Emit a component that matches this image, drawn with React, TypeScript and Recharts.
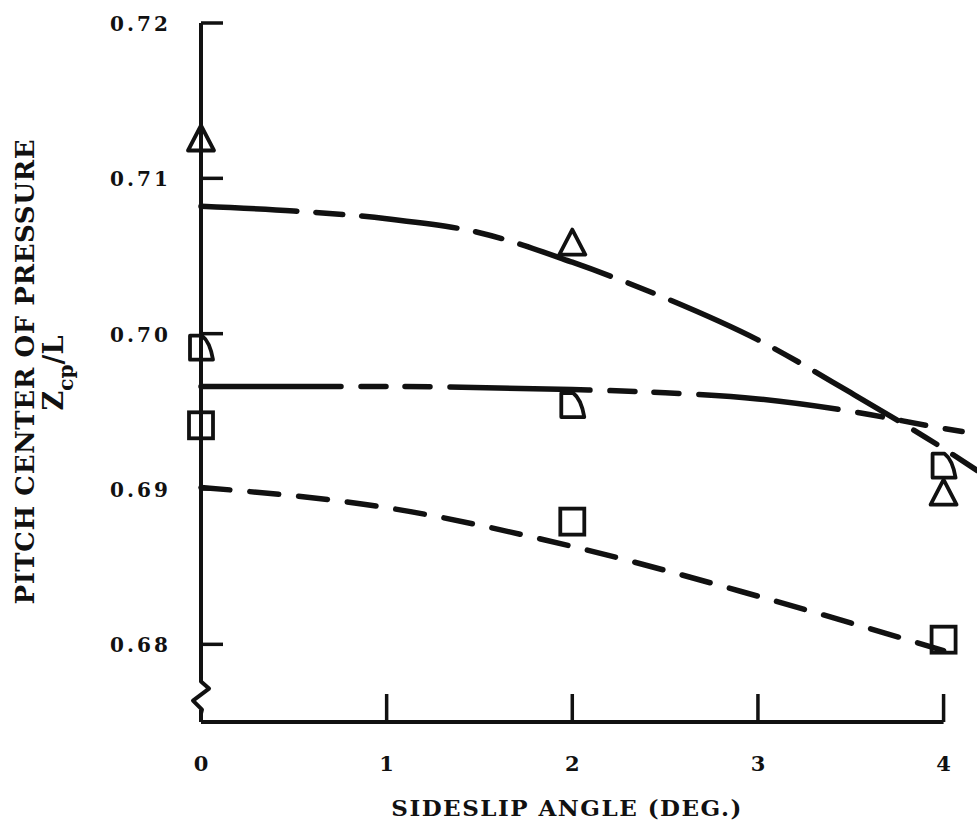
import React from 'react';
import {
  ComposedChart,
  Line,
  Scatter,
  XAxis,
  YAxis,
  ReferenceLine,
  ReferenceDot,
} from 'recharts';

// ---------- data ----------
const xTicks = [0, 1, 2, 3, 4];
const xTickLabels = ['0', '1', '2', '3', '4'];
const yTicks = [0.68, 0.69, 0.7, 0.71, 0.72];
const yTickLabels = ['0.68', '0.69', '0.70', '0.71', '0.72'];

const markerX = [0, 2, 4];
const triangleY = [0.7125, 0.7058, 0.6897];
const flagY = [0.6991, 0.6954, 0.6915];
const squareY = [0.6941, 0.6879, 0.6803];

const upperCurveX = [0, 0.5, 1, 1.5, 2, 2.5, 3, 3.5, 4, 4.18];
const upperCurveY = [0.7082, 0.7079, 0.7074, 0.7065, 0.7046, 0.7023, 0.6996, 0.6962, 0.6926, 0.6912];

const middleCurveX = [0, 1, 2, 2.5, 3, 3.5, 4, 4.1];
const middleCurveY = [0.6966, 0.6966, 0.6964, 0.6962, 0.6958, 0.695, 0.6939, 0.6937];

const lowerCurveX = [0, 1, 2, 3, 4];
const lowerCurveY = [0.6901, 0.6888, 0.6863, 0.6831, 0.6796];

const X_DOMAIN: [number, number] = [0, 4.18];
const Y_DOMAIN: [number, number] = [0.675, 0.72];
const AXIS_BREAK_Y = 0.6767;

const X_TITLE = 'SIDESLIP ANGLE (DEG.)';
const Y_TITLE = 'PITCH CENTER OF PRESSURE';

// ---------- helpers ----------
const FONT = '"DejaVu Serif", "Liberation Serif", serif';
const INK = '#111';

const toPoints = (xs: number[], ys: number[]) => xs.map((x, i) => ({ x, y: ys[i] }));

const upperData = toPoints(upperCurveX, upperCurveY);
const middleData = toPoints(middleCurveX, middleCurveY);
const lowerData = toPoints(lowerCurveX, lowerCurveY);
const triangleData = toPoints(markerX, triangleY);
const flagData = toPoints(markerX, flagY);
const squareData = toPoints(markerX, squareY);

const TriangleShape = (p: any) => {
  const { cx, cy } = p;
  return (
    <path
      d={`M${cx},${cy - 14} L${cx + 13},${cy + 11} L${cx - 13},${cy + 11} Z`}
      fill="none"
      stroke={INK}
      strokeWidth={3.8}
      strokeLinejoin="round"
    />
  );
};

const FlagShape = (p: any) => {
  const { cx, cy } = p;
  return (
    <path
      d={`M${cx - 11},${cy - 12} L${cx + 1},${cy - 12} Q${cx + 9},${cy - 6} ${cx + 12},${cy + 12} L${cx - 11},${cy + 12} Z`}
      fill="none"
      stroke={INK}
      strokeWidth={3.8}
      strokeLinejoin="round"
    />
  );
};

const SquareShape = (p: any) => {
  const { cx, cy } = p;
  return (
    <rect x={cx - 12} y={cy - 13} width={24} height={26} fill="none" stroke={INK} strokeWidth={3.8} />
  );
};

const BreakShape = (p: any) => {
  const { cx, cy } = p;
  return (
    <g>
      <line x1={cx} x2={cx} y1={cy - 14} y2={cy + 14} stroke="#fff" strokeWidth={7} />
      <path
        d={`M${cx},${cy - 18} L${cx},${cy - 14} L${cx + 8},${cy - 7} L${cx - 8},${cy + 5} L${cx + 1},${cy + 14} L${cx},${cy + 18}`}
        fill="none"
        stroke={INK}
        strokeWidth={4}
        strokeLinejoin="round"
      />
    </g>
  );
};

const YTick = (p: any) => {
  const { x, y, payload } = p;
  const idx = yTicks.findIndex((t) => Math.abs(t - payload.value) < 1e-9);
  return (
    <g>
      <line x1={x} x2={x + 22} y1={y} y2={y} stroke={INK} strokeWidth={3.5} />
      <text
        x={x - 33}
        y={y + 1}
        textAnchor="end"
        dominantBaseline="central"
        fontFamily={FONT}
        fontWeight="bold"
        fontSize={20}
        fill={INK}
        textLength={58}
        lengthAdjust="spacing"
      >
        {yTickLabels[idx]}
      </text>
    </g>
  );
};

const XTick = (p: any) => {
  const { x, y, payload } = p;
  const idx = xTicks.findIndex((t) => Math.abs(t - payload.value) < 1e-9);
  return (
    <g>
      {payload.value > 0 && (
        <line x1={x} x2={x} y1={y} y2={y - 28} stroke={INK} strokeWidth={3.5} />
      )}
      <text
        x={x}
        y={y + 41}
        textAnchor="middle"
        dominantBaseline="central"
        fontFamily={FONT}
        fontWeight="bold"
        fontSize={21}
        fill={INK}
      >
        {xTickLabels[idx]}
      </text>
    </g>
  );
};

const XTitle = (p: any) => {
  const vb = p.viewBox || {};
  const cx = (vb.x || 0) + (vb.width || 0) * (2 / 4.18) - 6;
  return (
    <text
      x={cx}
      y={(vb.y || 0) + 85}
      textAnchor="middle"
      dominantBaseline="central"
      fontFamily={FONT}
      fontWeight="bold"
      fontSize={23}
      fill={INK}
      textLength={350}
      lengthAdjust="spacing"
    >
      {X_TITLE}
    </text>
  );
};

const YTitle = (p: any) => {
  const vb = p.viewBox || {};
  const top = vb.y || 0;
  const cy = top + 349;
  const tx = 25;
  const zx = 63;
  return (
    <g>
      <text
        x={tx}
        y={cy}
        transform={`rotate(-90 ${tx} ${cy})`}
        textAnchor="middle"
        dominantBaseline="central"
        fontFamily={FONT}
        fontWeight="bold"
        fontSize={26}
        fill={INK}
        textLength={465}
        lengthAdjust="spacing"
      >
        {Y_TITLE}
      </text>
      <text
        x={zx}
        y={cy + 1}
        transform={`rotate(-90 ${zx} ${cy + 1})`}
        textAnchor="middle"
        fontFamily={FONT}
        fontWeight="bold"
        fontSize={27}
        fill={INK}
      >
        <tspan>Z</tspan>
        <tspan fontSize={20} dy={10}>cp</tspan>
        <tspan dy={-10}>/L</tspan>
      </text>
    </g>
  );
};

export default function App() {
  return (
    <div style={{ position: 'absolute', left: 0, top: 0, width: 977, height: 821, background: '#fff' }}>
      <ComposedChart
        width={977}
        height={821}
        margin={{ top: 23, right: 0, bottom: 98, left: 200 }}
      >
        <XAxis
          type="number"
          dataKey="x"
          domain={X_DOMAIN}
          ticks={xTicks}
          interval={0}
          height={1}
          axisLine={false}
          tickLine={false}
          tickSize={0}
          tickMargin={0}
          tick={XTick}
          label={{ content: XTitle }}
        />
        <YAxis
          type="number"
          dataKey="y"
          domain={Y_DOMAIN}
          ticks={yTicks}
          interval={0}
          width={1}
          axisLine={{ stroke: INK, strokeWidth: 4 }}
          tickLine={false}
          tickSize={0}
          tickMargin={0}
          tick={YTick}
          label={{ content: YTitle }}
        />
        <ReferenceLine
          segment={[
            { x: X_DOMAIN[0], y: Y_DOMAIN[0] },
            { x: xTicks[xTicks.length - 1], y: Y_DOMAIN[0] },
          ]}
          stroke={INK}
          strokeWidth={4}
          ifOverflow="visible"
        />
        <ReferenceDot x={0} y={AXIS_BREAK_Y} r={0} ifOverflow="visible" shape={BreakShape} />
        <Line
          data={upperData}
          dataKey="y"
          type="monotone"
          stroke={INK}
          strokeWidth={5.5}
          strokeLinecap="round"
          strokeDasharray="96 19 27 19"
          dot={false}
          activeDot={false}
          isAnimationActive={false}
        />
        <Line
          data={middleData}
          dataKey="y"
          type="monotone"
          stroke={INK}
          strokeWidth={5.5}
          strokeLinecap="round"
          strokeDasharray="140 20 25 19 25 20"
          dot={false}
          activeDot={false}
          isAnimationActive={false}
        />
        <Line
          data={lowerData}
          dataKey="y"
          type="monotone"
          stroke={INK}
          strokeWidth={5.5}
          strokeLinecap="round"
          strokeDasharray="29 20"
          dot={false}
          activeDot={false}
          isAnimationActive={false}
        />
        <Scatter data={triangleData} dataKey="y" shape={TriangleShape} isAnimationActive={false} />
        <Scatter data={flagData} dataKey="y" shape={FlagShape} isAnimationActive={false} />
        <Scatter data={squareData} dataKey="y" shape={SquareShape} isAnimationActive={false} />
      </ComposedChart>
    </div>
  );
}
